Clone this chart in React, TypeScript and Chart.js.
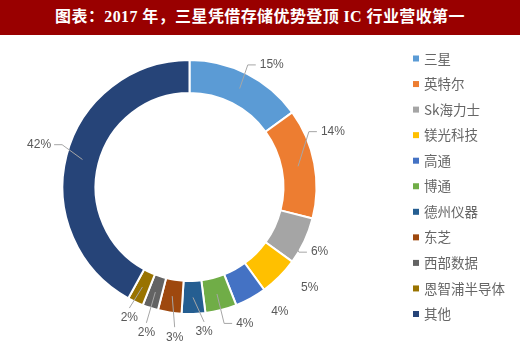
import React, { useEffect, useRef } from "react";
import { Chart, registerables } from "chart.js";

Chart.register(...registerables);

const TITLE = "图表：2017 年，三星凭借存储优势登顶 IC 行业营收第一";
const categories = ["三星", "英特尔", "Sk海力士", "镁光科技", "高通", "博通", "德州仪器", "东芝", "西部数据", "恩智浦半导体", "其他"];
const shares = [15, 14, 6, 5, 4, 4, 3, 3, 2, 2, 42];
const colors = ["#5B9BD5", "#ED7D31", "#A5A5A5", "#FFC000", "#4472C4", "#70AD47", "#255E91", "#9E480E", "#636363", "#997300", "#264478"];

// label placement tweaks (pixels, relative to the default outside position)
const labelNudges = [[16, 8], [0, -28], [-2, 3], [17, -3], [20, -3], [19, -5], [10, -1], [8, 6], [2, 7], [2, -1], [-9, -6]];
const leaderModes = ["right", "right", "right", "none", "none", "right", "down", "down", "down", "down", "left"];

const LEGEND_BOX_X = 413;
const LEGEND_TEXT_X = 424;
const LEGEND_TOP = 23.5;
const LEGEND_STEP = 25.55;

const outLabels = {
  id: "outLabels",
  afterDatasetsDraw(chart: any) {
    const ctx = chart.ctx;
    const meta = chart.getDatasetMeta(0);
    ctx.save();
    ctx.font = '12px "Liberation Sans", Arial, sans-serif';
    ctx.textBaseline = "middle";
    ctx.textAlign = "center";
    meta.data.forEach((arc: any, i: number) => {
      const p = arc.getProps(["x", "y", "startAngle", "endAngle", "outerRadius", "innerRadius"], true);
      const mid = (p.startAngle + p.endAngle) / 2;
      const c = Math.cos(mid);
      const s = Math.sin(mid);
      const n = labelNudges[i];
      const lx = p.x + (p.outerRadius + 19) * c + n[0];
      const ly = p.y + (p.outerRadius + 19) * s + n[1];
      const text = chart.data.datasets[0].data[i] + "%";
      const w = ctx.measureText(text).width;
      const sr = (p.outerRadius + p.innerRadius) / 2;
      const sx = p.x + sr * c;
      const sy = p.y + sr * s;
      const mode = leaderModes[i];
      ctx.strokeStyle = "#A6A6A6";
      ctx.lineWidth = 1;
      if (mode !== "none") {
        ctx.beginPath();
        ctx.moveTo(sx, sy);
        if (mode === "right") {
          const left = lx - w / 2;
          ctx.lineTo(left - 12, ly);
          ctx.lineTo(left - 4, ly);
        } else if (mode === "left") {
          const right = lx + w / 2;
          ctx.lineTo(right + 11, ly);
          ctx.lineTo(right + 3, ly);
        } else {
          ctx.lineTo(lx, ly - 10);
        }
        ctx.stroke();
      }
      ctx.fillStyle = "#595959";
      ctx.fillText(text, lx, ly);
    });
    ctx.restore();
  },
  afterDraw(chart: any) {
    const ctx = chart.ctx;
    const labels = chart.data.labels;
    const bg = chart.data.datasets[0].backgroundColor;
    ctx.save();
    ctx.font = '13.5px "Noto Sans CJK SC", sans-serif';
    ctx.textBaseline = "middle";
    ctx.textAlign = "left";
    labels.forEach((lab: string, i: number) => {
      const y = LEGEND_TOP + i * LEGEND_STEP;
      ctx.fillStyle = bg[i];
      ctx.fillRect(LEGEND_BOX_X, y - 3, 6, 6);
      ctx.fillStyle = "#666666";
      ctx.fillText(lab, LEGEND_TEXT_X, y);
    });
    ctx.restore();
  },
};

export default function App() {
  const ref = useRef<HTMLCanvasElement>(null);
  useEffect(() => {
    if (!ref.current) return;
    const chart = new Chart(ref.current, {
      type: "doughnut",
      data: {
        labels: categories,
        datasets: [
          {
            data: shares,
            backgroundColor: colors,
            borderColor: "#ffffff",
            borderWidth: 2,
          },
        ],
      },
      options: {
        responsive: false,
        animation: false,
        radius: 127,
        cutout: "74%",
        layout: { padding: { left: 40, right: 181, top: 10, bottom: 26 } },
        plugins: { legend: { display: false }, tooltip: { enabled: false } },
      } as any,
      plugins: [outLabels],
    });
    return () => chart.destroy();
  }, []);
  return (
    <div style={{ position: "fixed", left: 0, top: 0, width: 520, height: 355, background: "#fff" }}>
      <div
        style={{
          height: 35,
          background: "#990000",
          color: "#fff",
          fontFamily: '"Liberation Serif", "Noto Sans CJK SC", serif',
          fontWeight: "bold",
          fontSize: 16,
          lineHeight: "34px",
          letterSpacing: "0.4px",
          textAlign: "center",
          whiteSpace: "nowrap",
        }}
      >
        {TITLE}
      </div>
      <canvas ref={ref} width={520} height={320} style={{ display: "block", width: 520, height: 320 }} />
    </div>
  );
}
